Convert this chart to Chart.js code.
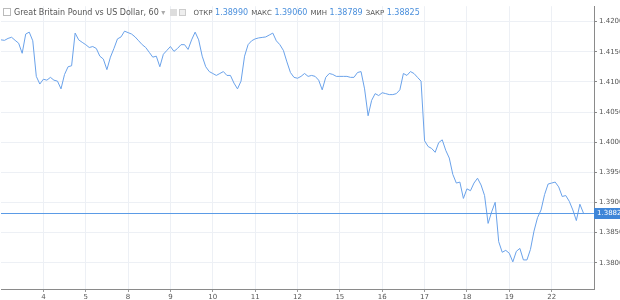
<!DOCTYPE html>
<html>
<head>
<meta charset="utf-8">
<script src="https://cdn.jsdelivr.net/npm/chart.js@4/dist/chart.umd.min.js"></script>
<style>
  body { margin: 0; background: #fff; }
  #wrap { position: relative; width: 620px; height: 300px; }
  #head {
    position: absolute; left: 3px; top: 8px;
    font: 8px "DejaVu Sans", sans-serif; color: #555; white-space: nowrap;
  }
  #head .k { font-size: 7px; }
  #head .v { color: #4a8fdc; margin-right: 3px; }
  #head .ic { display: inline-block; width: 6px; height: 6px; border: 1px solid #bbb; vertical-align: -1px; margin-right: 3px; }
  #head .sq { display: inline-block; width: 7px; height: 7px; background: #ddd; vertical-align: -1px; margin-right: 2px; }
</style>
</head>
<body>
<div id="wrap">
  <canvas id="chart" width="620" height="300"></canvas>
  <div id="head"><span class="ic"></span>Great Britain Pound vs US Dollar, 60 <span style="color:#aaa">▾</span>&nbsp; <span class="sq"></span><span class="sq" style="background:#eee;border:1px solid #ccc;width:5px;height:5px"></span>&nbsp; <span class="k">ОТКР</span> <span class="v">1.38990</span><span class="k">МАКС</span> <span class="v">1.39060</span><span class="k">МИН</span> <span class="v">1.38789</span><span class="k">ЗАКР</span> <span class="v">1.38825</span></div>
</div>
<script>
// торговые дни, по 12 двухчасовых точек на день
const days = ["3", "4", "5", "8", "9", "10", "11", "12", "15", "16", "17", "18", "19", "22"];
const perDay = 12;

// GBP/USD, 2-часовые значения
const prices = [
  1.41697, 1.41689, 1.41721, 1.41740, 1.41689, 1.41641, 1.41474, 1.41793, 1.41825, 1.41681, 1.41091, 1.40964,
  1.41044, 1.41028, 1.41075, 1.41028, 1.41012, 1.40884, 1.41123, 1.41251, 1.41267, 1.41809, 1.41697, 1.41656,
  1.41617, 1.41570, 1.41586, 1.41554, 1.41426, 1.41378, 1.41203, 1.41410, 1.41554, 1.41713, 1.41745, 1.41841,
  1.41817, 1.41793, 1.41745, 1.41681, 1.41617, 1.41570, 1.41490, 1.41410, 1.41426, 1.41251, 1.41458, 1.41522,
  1.41586, 1.41506, 1.41554, 1.41617, 1.41617, 1.41538, 1.41697, 1.41825, 1.41697, 1.41426, 1.41251, 1.41171,
  1.41139, 1.41107, 1.41139, 1.41171, 1.41107, 1.41107, 1.40980, 1.40884, 1.41012, 1.41426, 1.41617, 1.41681,
  1.41713, 1.41729, 1.41737, 1.41745, 1.41777, 1.41809, 1.41681, 1.41617, 1.41522, 1.41331, 1.41155, 1.41075,
  1.41060, 1.41091, 1.41139, 1.41091, 1.41107, 1.41091, 1.41028, 1.40868, 1.41075, 1.41139, 1.41123, 1.41091,
  1.41091, 1.41091, 1.41091, 1.41075, 1.41075, 1.41155, 1.41171, 1.40884, 1.40438, 1.40693, 1.40805, 1.40773,
  1.40820, 1.40805, 1.40789, 1.40789, 1.40805, 1.40868, 1.41139, 1.41107, 1.41171, 1.41139, 1.41075, 1.41012,
  1.40023, 1.39928, 1.39896, 1.39832, 1.39992, 1.40039, 1.39864, 1.39737, 1.39466, 1.39322, 1.39338, 1.39067,
  1.39226, 1.39195, 1.39322, 1.39402, 1.39290, 1.39115, 1.38653, 1.38844, 1.39003, 1.38350, 1.38174, 1.38206,
  1.38158, 1.38015, 1.38190, 1.38238, 1.38047, 1.38047, 1.38222, 1.38525, 1.38748, 1.38876, 1.39131, 1.39306,
  1.39322, 1.39338, 1.39258, 1.39099, 1.39115, 1.39019, 1.38876, 1.38700, 1.38971, 1.38825
];

const lastClose = 1.38825;
const yMin = 1.37565, yMax = 1.42255, yStep = 0.005;

// метки оси X
const labels = [];
days.forEach(d => {
  for (let h = 0; h < perDay; h++) labels.push(d + " " + (h * 2) + ":00");
});
labels.push("23 0:00");

const isDayTick = i => i > 0 && i < labels.length - 1 && i % perDay === 0;

// линия и плашка последней цены
const closeLine = {
  id: "closeLine",
  afterDatasetsDraw(chart) {
    const { ctx, chartArea } = chart;
    const y = Math.round(chart.scales.y.getPixelForValue(lastClose)) + 0.5;
    ctx.save();
    ctx.strokeStyle = "#5b9be6";
    ctx.lineWidth = 1;
    ctx.beginPath();
    ctx.moveTo(chartArea.left, y);
    ctx.lineTo(chartArea.right, y);
    ctx.stroke();
    ctx.fillStyle = "#3f86d8";
    ctx.fillRect(chartArea.right, y - 5.5, 30, 11);
    ctx.fillStyle = "#fff";
    ctx.font = "7px 'DejaVu Sans'";
    ctx.textBaseline = "middle";
    ctx.fillText(lastClose.toFixed(5), chartArea.right + 3, y);
    ctx.restore();
  }
};

new Chart(document.getElementById("chart"), {
  type: "line",
  data: {
    labels: labels,
    datasets: [{
      data: prices,
      borderColor: "#6aa2ea",
      borderWidth: 1,
      pointRadius: 0,
      tension: 0,
      fill: false
    }]
  },
  options: {
    responsive: false,
    animation: false,
    layout: { padding: 0 },
    plugins: { legend: { display: false }, tooltip: { enabled: false } },
    scales: {
      x: {
        type: "category",
        offset: false,
        border: { color: "#8a8a8a", width: 1 },
        grid: {
          color: c => isDayTick(c.index) ? "#edf0f5" : "transparent",
          tickColor: c => isDayTick(c.index) ? "#999" : "transparent",
          tickLength: 3
        },
        ticks: {
          autoSkip: false,
          maxRotation: 0,
          padding: 1,
          color: "#555",
          font: { family: "DejaVu Sans", size: 7 },
          callback: (v, i) => isDayTick(i) ? days[i / perDay] : ""
        },
        afterFit: s => { s.height = 11; }
      },
      y: {
        position: "right",
        min: yMin,
        max: yMax,
        border: { color: "#8a8a8a", width: 1 },
        grid: { color: "#edf0f5", tickColor: "#888", tickLength: 3 },
        ticks: {
          stepSize: yStep,
          includeBounds: false,
          padding: 2,
          color: "#555",
          font: { family: "DejaVu Sans", size: 7 },
          callback: v => v.toFixed(5)
        },
        afterFit: s => { s.width = 26; }
      }
    }
  },
  plugins: [closeLine]
});
</script>
</body>
</html>
